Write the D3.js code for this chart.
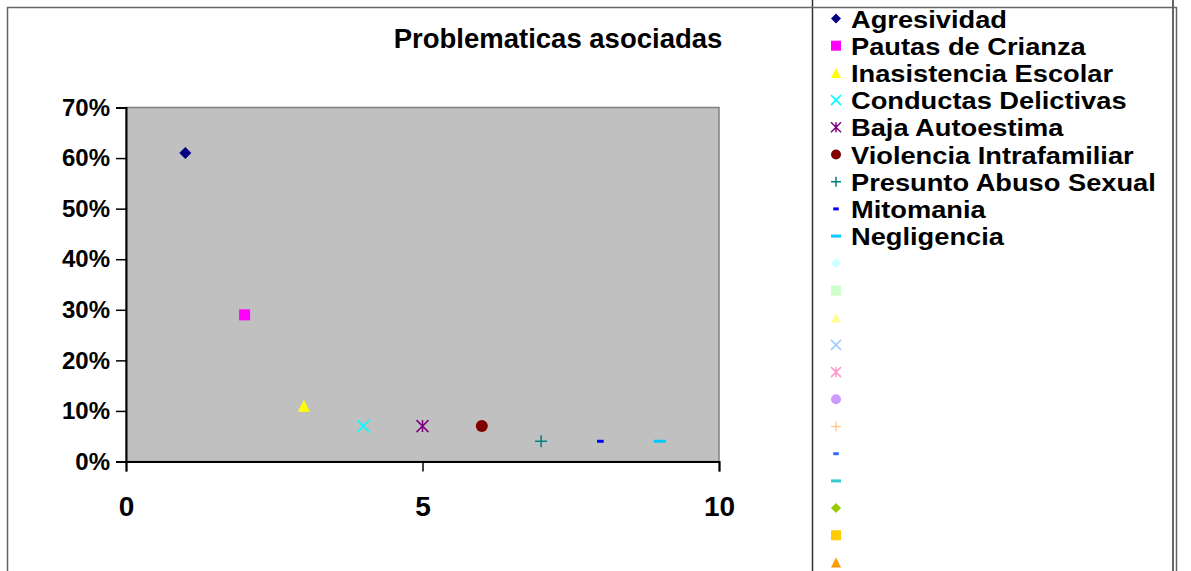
<!DOCTYPE html>
<html>
<head>
<meta charset="utf-8">
<script src="https://cdn.jsdelivr.net/npm/d3@7"></script>
<style>
  body { margin: 0; background: #fff; }
  text { font-family: Arial, "Liberation Sans", sans-serif; font-weight: bold; fill: #000; }
</style>
</head>
<body>
<div id="chart"></div>
<script>
// data
var categories = ["Agresividad", "Pautas  de Crianza", "Inasistencia Escolar", "Conductas Delictivas",
    "Baja Autoestima", "Violencia Intrafamiliar", "Presunto Abuso Sexual", "Mitomania", "Negligencia"];
var xValues = [1, 2, 3, 4, 5, 6, 7, 8, 9];
var yValues = [0.61, 0.29, 0.11, 0.07, 0.07, 0.07, 0.04, 0.04, 0.04];
var xTicks = [0, 5, 10];
var yTicks = [0, 0.1, 0.2, 0.3, 0.4, 0.5, 0.6, 0.7];

// styles
var seriesColors = ["#000080", "#FF00FF", "#FFFF00", "#00FFFF", "#800080", "#800000", "#008080", "#0000FF", "#00CCFF"];
var seriesShapes = ["diamond", "square", "triangle", "x", "star", "circle", "plus", "dash", "longdash"];
var emptyColors = ["#CCFFFF", "#CCFFCC", "#FFFF99", "#99CCFF", "#FF99CC", "#CC99FF", "#FFCC99", "#3366FF", "#33CCCC", "#99CC00", "#FFCC00", "#FF9900"];
var emptyShapes = ["diamond", "square", "triangle", "x", "star", "circle", "plus", "dash", "longdash", "diamond", "square", "triangle"];

var width = 1191, height = 571;
var svg = d3.select("#chart").append("svg")
    .attr("width", width)
    .attr("height", height);

var plot = { left: 126, right: 719, top: 107.5, bottom: 461.5 };

var x = d3.scaleLinear().domain([0, 10]).range([plot.left, plot.right]);
var y = d3.scaleLinear().domain([0, 0.7]).range([plot.bottom, plot.top]);

svg.append("rect")
    .attr("x", plot.left).attr("y", plot.top)
    .attr("width", plot.right - plot.left).attr("height", plot.bottom - plot.top)
    .attr("fill", "#C0C0C0").attr("stroke", "#808080").attr("stroke-width", 1.5);

var yAxis = svg.append("g")
    .attr("transform", "translate(" + plot.left + ",0)")
    .call(d3.axisLeft(y).tickValues(yTicks).tickFormat(d3.format(".0%")).tickSize(10).tickPadding(6));
var xAxis = svg.append("g")
    .attr("transform", "translate(0," + plot.bottom + ")")
    .call(d3.axisBottom(x).tickValues(xTicks).tickFormat(d3.format("d")).tickSize(10).tickPadding(25));

[xAxis, yAxis].forEach(function (a) {
    a.select(".domain").attr("stroke", "#000").attr("stroke-width", 2);
    a.selectAll(".tick line").attr("stroke", "#000").attr("stroke-width", 1.5);
    a.selectAll(".tick text").style("font-family", "Arial, 'Liberation Sans', sans-serif").style("font-weight", "bold").attr("fill", "#000");
});
yAxis.selectAll(".tick text").style("font-size", "24px");
xAxis.selectAll(".tick text").style("font-size", "28px");

svg.append("text")
    .attr("x", 558).attr("y", 48)
    .attr("text-anchor", "middle")
    .style("font-size", "27.5px")
    .text("Problematicas asociadas");

function drawMarker(g, shape, s, color) {
    if (shape == "diamond") {
        g.append("path").attr("d", "M0," + (-s) + "L" + s + ",0L0," + s + "L" + (-s) + ",0Z").attr("fill", color);
    } else if (shape == "square") {
        g.append("rect").attr("x", -s).attr("y", -s).attr("width", 2 * s).attr("height", 2 * s).attr("fill", color);
    } else if (shape == "triangle") {
        g.append("path").attr("d", "M0," + (-s) + "L" + s + "," + s + "L" + (-s) + "," + s + "Z").attr("fill", color);
    } else if (shape == "circle") {
        g.append("circle").attr("r", s).attr("fill", color);
    } else if (shape == "x") {
        g.append("path").attr("d", "M" + (-s) + "," + (-s) + "L" + s + "," + s + "M" + s + "," + (-s) + "L" + (-s) + "," + s)
            .attr("stroke", color).attr("stroke-width", 1.5).attr("fill", "none");
    } else if (shape == "star") {
        g.append("path").attr("d", "M" + (-s) + "," + (-s) + "L" + s + "," + s + "M" + s + "," + (-s) + "L" + (-s) + "," + s + "M0," + (-s) + "L0," + s)
            .attr("stroke", color).attr("stroke-width", 1.5).attr("fill", "none");
    } else if (shape == "plus") {
        g.append("path").attr("d", "M" + (-s) + ",0L" + s + ",0M0," + (-s) + "L0," + s)
            .attr("stroke", color).attr("stroke-width", 1.5).attr("fill", "none");
    } else if (shape == "dash") {
        g.append("rect").attr("x", -s * 0.55).attr("y", -1.5).attr("width", s * 1.1).attr("height", 3).attr("fill", color);
    } else if (shape == "longdash") {
        g.append("rect").attr("x", -s).attr("y", -1.5).attr("width", 2 * s).attr("height", 3).attr("fill", color);
    }
}

// points
categories.forEach(function (c, i) {
    var g = svg.append("g").attr("transform", "translate(" + x(xValues[i]) + "," + y(yValues[i]) + ")");
    var s = seriesShapes[i] == "square" ? 5.5 : 6;
    drawMarker(g, seriesShapes[i], s, seriesColors[i]);
});

// legend
svg.append("rect")
    .attr("x", 812.5).attr("y", -5)
    .attr("width", 360.5).attr("height", 600)
    .attr("fill", "none").attr("stroke", "#333").attr("stroke-width", 1.5);

var legendTop = 18.5, legendStep = 27.2;
var legendItems = categories.map(function (c, i) { return { name: c, shape: seriesShapes[i], color: seriesColors[i] }; })
    .concat(emptyColors.map(function (c, i) { return { name: "", shape: emptyShapes[i], color: c }; }));

legendItems.forEach(function (d, i) {
    var g = svg.append("g").attr("transform", "translate(836," + (legendTop + i * legendStep) + ")");
    drawMarker(g, d.shape, 5, d.color);
    // text is a bit smaller in height and stretched so the boxes don't overlap
    g.append("text").attr("transform", "translate(15,9) scale(1.16,1)")
        .style("font-size", "23.5px").text(d.name);
});

// outer frame
svg.append("rect")
    .attr("x", 7.5).attr("y", 7.5)
    .attr("width", 1169).attr("height", 600)
    .attr("fill", "none").attr("stroke", "#666").attr("stroke-width", 1.5);
</script>
</body>
</html>
